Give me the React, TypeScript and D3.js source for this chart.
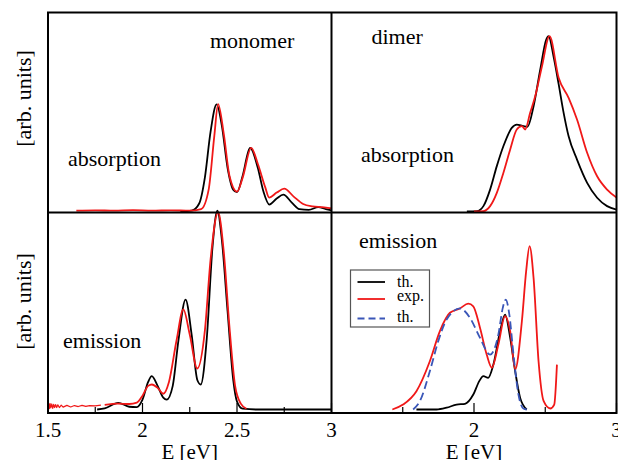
import React, { useEffect, useRef } from 'react';
import * as d3 from 'd3';

type Pt = [number, number];

// monomer absorption (top left), E [eV] vs intensity
const monoAbsTh: Pt[] = [
  [2.2, 0], [2.26, 0.004], [2.3, 0.04], [2.33, 0.17], [2.36, 0.4], [2.392, 0.538],
  [2.42, 0.43], [2.45, 0.22], [2.48, 0.11], [2.5, 0.097], [2.53, 0.18], [2.569, 0.32],
  [2.61, 0.22], [2.64, 0.1], [2.671, 0.035], [2.71, 0.065], [2.745, 0.085], [2.79, 0.045],
  [2.83, 0.012], [2.88, 0.008], [2.93, 0.022], [2.97, 0.012], [3.0, 0.006],
];
const monoAbsExp: Pt[] = [
  [1.65, 0.004], [1.75, 0.006], [1.85, 0.004], [1.95, 0.007], [2.05, 0.004], [2.15, 0.006],
  [2.25, 0.004], [2.31, 0.012], [2.35, 0.11], [2.38, 0.38], [2.4, 0.54], [2.43, 0.39],
  [2.46, 0.18], [2.5, 0.1], [2.53, 0.17], [2.575, 0.32], [2.61, 0.24], [2.65, 0.12],
  [2.67, 0.07], [2.71, 0.095], [2.75, 0.115], [2.8, 0.075], [2.85, 0.038], [2.9, 0.026],
  [2.95, 0.022], [3.0, 0.016],
];

// monomer emission (bottom left)
const monoEmTh: Pt[] = [
  [1.76, 0], [1.8, 0.006], [1.872, 0.034], [1.93, 0.014], [1.97, 0.012], [2.0, 0.05],
  [2.03, 0.14], [2.049, 0.169], [2.08, 0.12], [2.11, 0.06], [2.128, 0.05], [2.16, 0.12],
  [2.19, 0.35], [2.228, 0.558], [2.26, 0.38], [2.29, 0.15], [2.308, 0.127], [2.34, 0.36],
  [2.37, 0.82], [2.396, 1.01], [2.42, 0.86], [2.45, 0.5], [2.48, 0.15], [2.5, 0.04],
  [2.53, 0.004], [2.6, 0], [3.0, 0],
];
const monoEmNoise: Pt[] = [
  [1.5, 0.01], [1.503, 0.034], [1.507, 0.004], [1.511, 0.03], [1.515, 0.008], [1.52, 0.028],
  [1.525, 0.006], [1.53, 0.026], [1.535, 0.01], [1.54, 0.025], [1.546, 0.01], [1.552, 0.024],
  [1.56, 0.01], [1.57, 0.022], [1.58, 0.012], [1.6, 0.021], [1.62, 0.013], [1.64, 0.02],
  [1.66, 0.015], [1.68, 0.021], [1.7, 0.016], [1.72, 0.02], [1.75, 0.018], [1.78, 0.022],
];
const monoEmExp: Pt[] = [
  [1.8, 0.024], [1.87, 0.03], [1.93, 0.028], [1.97, 0.035], [2.0, 0.07], [2.03, 0.12],
  [2.05, 0.127], [2.08, 0.11], [2.11, 0.08], [2.14, 0.14], [2.18, 0.35], [2.216, 0.508],
  [2.25, 0.38], [2.29, 0.208], [2.33, 0.4], [2.36, 0.76], [2.4, 1.0], [2.43, 0.8],
  [2.46, 0.42], [2.49, 0.12], [2.52, 0.03], [2.55, 0.004],
];

// dimer absorption (top right)
const dimAbsTh: Pt[] = [
  [1.95, 0], [2.02, 0.002], [2.066, 0.027], [2.113, 0.11], [2.16, 0.228], [2.206, 0.328],
  [2.265, 0.42], [2.3, 0.437], [2.347, 0.429], [2.375, 0.426], [2.418, 0.529],
  [2.465, 0.714], [2.507, 0.864], [2.523, 0.881], [2.558, 0.78], [2.594, 0.64],
  [2.629, 0.496], [2.664, 0.378], [2.723, 0.261], [2.794, 0.144], [2.864, 0.069],
  [2.934, 0.027], [3.0, 0.01],
];
const dimAbsExp: Pt[] = [
  [2.0, 0], [2.066, 0.002], [2.113, 0.027], [2.16, 0.094], [2.206, 0.194], [2.254, 0.312],
  [2.3, 0.412], [2.336, 0.429], [2.359, 0.412], [2.394, 0.496], [2.43, 0.58],
  [2.477, 0.73], [2.53, 0.881], [2.594, 0.672], [2.664, 0.571], [2.723, 0.462],
  [2.794, 0.295], [2.864, 0.177], [2.934, 0.11], [3.0, 0.07],
];

// dimer emission (bottom right)
const dimEmTh: Pt[] = [
  [1.596, 0], [1.737, 0], [1.808, 0.009], [1.878, 0.025], [1.937, 0.029], [1.995, 0.076],
  [2.037, 0.144], [2.066, 0.169], [2.1, 0.161], [2.136, 0.228], [2.183, 0.397],
  [2.218, 0.482], [2.254, 0.364], [2.289, 0.194], [2.324, 0.059], [2.37, 0],
];
const dimEmExp: Pt[] = [
  [1.427, 0], [1.502, 0.025], [1.596, 0.093], [1.69, 0.245], [1.76, 0.397], [1.831, 0.491],
  [1.901, 0.513], [1.96, 0.537], [1.995, 0.524], [2.042, 0.415], [2.089, 0.279],
  [2.125, 0.212], [2.171, 0.33], [2.218, 0.474], [2.254, 0.397], [2.289, 0.203],
  [2.336, 0.448], [2.366, 0.702], [2.39, 0.829], [2.418, 0.668], [2.453, 0.245],
  [2.489, 0.042], [2.535, 0.005], [2.563, 0.025], [2.582, 0.228],
];
const dimEmTh2: Pt[] = [
  [1.573, 0], [1.62, 0.042], [1.69, 0.194], [1.749, 0.347], [1.808, 0.457], [1.901, 0.513],
  [1.972, 0.465], [2.042, 0.364], [2.113, 0.279], [2.171, 0.381], [2.202, 0.516],
  [2.223, 0.558], [2.248, 0.482], [2.277, 0.279], [2.312, 0.076], [2.347, 0.005], [2.37, 0],
];

const leftTicks = [1.5, 2, 2.5, 3];
const leftLabels = ['1.5', '2', '2.5', '3'];
const leftMinor = [1.75, 2.25, 2.75];
const rightTicks = [2, 3];
const rightLabels = ['2', '3'];
const rightMinor = [1.5, 2.5];

const legendItems = ['th.', 'exp.', 'th.'];

const RED = '#f01818';
const BLUE = '#3a56b8';
const FONT = "'Liberation Serif', 'DejaVu Serif', serif";

const App: React.FC = () => {
  const svgRef = useRef<SVGSVGElement>(null);

  useEffect(() => {
    if (!svgRef.current) return;
    const svg = d3.select(svgRef.current);
    svg.selectAll('*').remove();

    const xL = d3.scaleLinear().domain([1.5, 3]).range([48, 331.5]);
    const xR = d3.scaleLinear().domain([1, 3]).range([331.5, 616.5]);
    const yTop = d3.scaleLinear().domain([0, 1]).range([211.5, 12.5]);
    const yBot = d3.scaleLinear().domain([0, 1]).range([409.5, 212.5]);

    const draw = (data: Pt[], x: d3.ScaleLinear<number, number>, y: d3.ScaleLinear<number, number>, color: string, dash?: string, curve: d3.CurveFactory = d3.curveMonotoneX, w = 1.8) => {
      const line = d3.line<Pt>().x((d) => x(d[0])).y((d) => y(d[1])).curve(curve);
      svg.append('path')
        .attr('d', line(data) || '')
        .attr('fill', 'none')
        .attr('stroke', color)
        .attr('stroke-width', w)
        .attr('stroke-dasharray', dash || null)
        .attr('stroke-linejoin', 'round');
    };

    // top left
    draw(monoAbsTh, xL, yTop, '#000');
    draw(monoAbsExp, xL, yTop, RED);
    // bottom left
    draw(monoEmNoise, xL, yBot, RED, undefined, d3.curveLinear, 1.2);
    draw(monoEmTh, xL, yBot, '#000');
    draw(monoEmExp, xL, yBot, RED);
    // top right
    draw(dimAbsTh, xR, yTop, '#000');
    draw(dimAbsExp, xR, yTop, RED);
    // bottom right
    draw(dimEmTh, xR, yBot, '#000');
    draw(dimEmExp, xR, yBot, RED);
    draw(dimEmTh2, xR, yBot, BLUE, '8,4');

    // frames
    const frame = svg.append('g').attr('fill', 'none').attr('stroke', '#000').attr('stroke-width', 2);
    frame.append('rect').attr('x', 48).attr('y', 12.5).attr('width', 616.5 - 48).attr('height', 413 - 12.5);
    frame.append('line').attr('x1', 331.5).attr('x2', 331.5).attr('y1', 12.5).attr('y2', 413);
    frame.append('line').attr('x1', 48).attr('x2', 616.5).attr('y1', 212.5).attr('y2', 212.5);

    // ticks
    const ticks = svg.append('g').attr('stroke', '#000').attr('stroke-width', 1.2);
    leftTicks.concat(leftMinor).forEach((t) => {
      const len = leftMinor.includes(t) ? 6 : 10;
      ticks.append('line').attr('x1', xL(t)).attr('x2', xL(t)).attr('y1', 413).attr('y2', 413 - len);
    });
    rightTicks.concat(rightMinor).forEach((t) => {
      const len = rightMinor.includes(t) ? 6 : 10;
      ticks.append('line').attr('x1', xR(t)).attr('x2', xR(t)).attr('y1', 413).attr('y2', 413 - len);
    });

    const txt = svg.append('g').style('font-family', FONT).attr('fill', '#000');
    leftTicks.forEach((t, i) => {
      txt.append('text').attr('x', xL(t)).attr('y', 437).attr('text-anchor', 'middle').attr('font-size', 21).text(leftLabels[i]);
    });
    rightTicks.forEach((t, i) => {
      txt.append('text').attr('x', xR(t)).attr('y', 437).attr('text-anchor', 'middle').attr('font-size', 21).text(rightLabels[i]);
    });
    txt.append('text').attr('x', (xL(1.5) + xL(3)) / 2).attr('y', 459).attr('text-anchor', 'middle').attr('font-size', 21).text('E [eV]');
    txt.append('text').attr('x', xR(2)).attr('y', 459).attr('text-anchor', 'middle').attr('font-size', 21).text('E [eV]');

    [98.5, 301.5].forEach((cy) => {
      txt.append('text')
        .attr('transform', `translate(31,${cy}) rotate(-90)`)
        .attr('text-anchor', 'middle')
        .attr('font-size', 22)
        .text('[arb. units]');
    });

    const labels: [string, number, number][] = [
      ['monomer', 210, 47.5],
      ['absorption', 68, 165.5],
      ['dimer', 371.5, 43.5],
      ['absorption', 361, 161.5],
      ['emission', 63, 348],
      ['emission', 359, 247.5],
    ];
    labels.forEach(([s, x, y]) => {
      txt.append('text').attr('x', x).attr('y', y).attr('font-size', 22).text(s);
    });

    // legend
    const lg = svg.append('g');
    lg.append('rect').attr('x', 350.5).attr('y', 270).attr('width', 79).attr('height', 57)
      .attr('fill', '#fff').attr('stroke', '#555').attr('stroke-width', 1.2);
    const rows = [282, 299, 318.5];
    const colors = ['#000', RED, BLUE];
    const textY = [286.5, 301, 322];
    legendItems.forEach((s, i) => {
      lg.append('line').attr('x1', 357.5).attr('x2', 385).attr('y1', rows[i]).attr('y2', rows[i])
        .attr('stroke', colors[i]).attr('stroke-width', 1.8)
        .attr('stroke-dasharray', i === 2 ? '7,4' : null);
      lg.append('text').attr('x', 397).attr('y', textY[i]).style('font-family', FONT)
        .attr('font-size', 16).text(s);
    });
  }, []);

  return (
    <svg ref={svgRef} width={618} height={460} style={{ position: 'absolute', left: 0, top: 0, background: '#fff' }} />
  );
};

export default App;
